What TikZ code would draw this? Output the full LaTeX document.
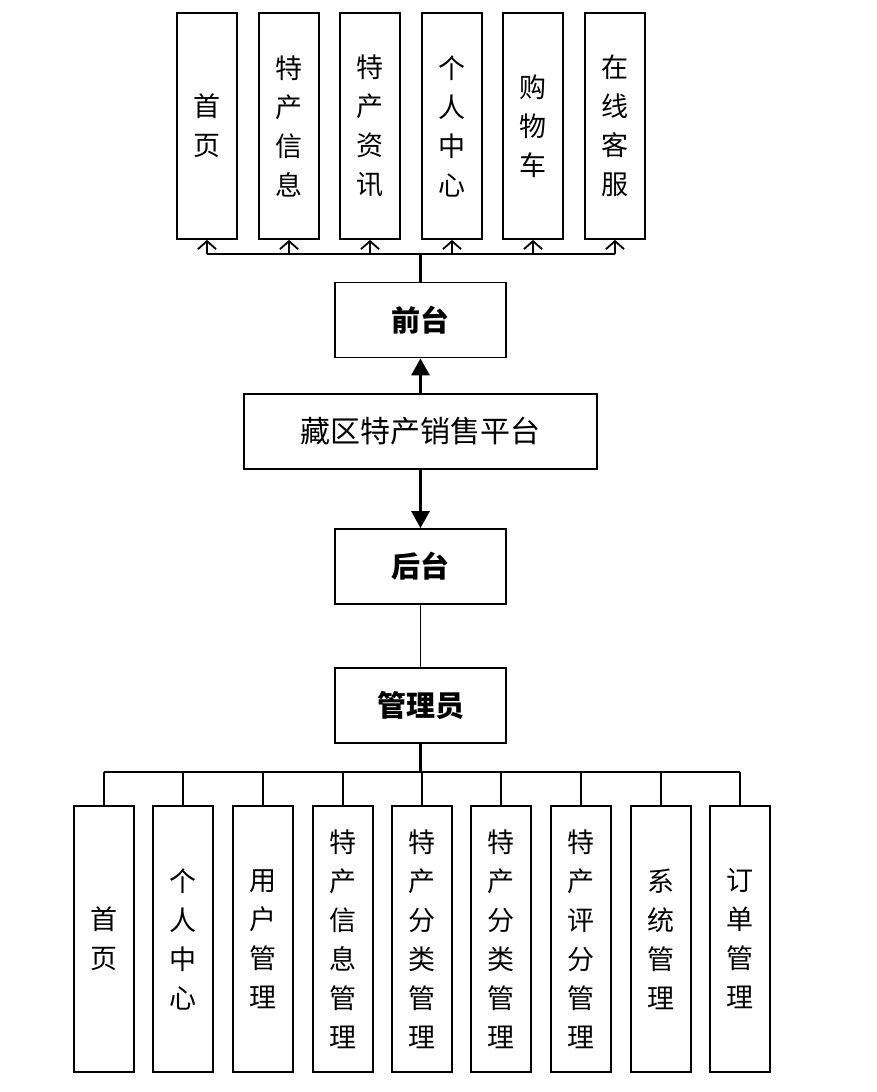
\documentclass[tikz,border=0pt]{standalone}
\usepackage{fontspec}
\setmainfont{Noto Sans CJK SC}
\usetikzlibrary{arrows.meta}

\begin{document}
\begin{tikzpicture}[x=1pt,y=-1pt,
	box/.style={draw,line width=1.8pt,inner sep=0pt,align=center},
	vbox/.style={box,minimum width=60pt,font=\fontsize{27}{39}\selectfont},
	hbox/.style={box,minimum width=171pt,minimum height=75pt,font=\fontsize{29}{34}\selectfont\bfseries}]
	\useasboundingbox (0,0) rectangle (877,1092);
	% centre
	\node[box,minimum width=353pt,minimum height=75pt,font=\fontsize{30}{34}\selectfont] (plat) at (420.5,431.5) {藏区特产销售平台};
	\node[hbox] (front) at (420.5,320) {前台};
	\node[hbox] (back) at (420.5,566.5) {后台};
	\node[hbox] (admin) at (420.5,705.5) {管理员};
	\draw[line width=3pt,-{Triangle[length=17pt,width=18pt]}] (plat.north) -- (front.south);
	\draw[line width=3pt,-{Triangle[length=17pt,width=18pt]}] (plat.south) -- (back.north);
	\draw[line width=1.8pt] (back.south) -- (admin.north);
	% front end
	\node[vbox,minimum height=226pt] (f1) at (207,126) {首\\页};
	\node[vbox,minimum height=226pt] (f2) at (289,126) {特\\产\\信\\息};
	\node[vbox,minimum height=226pt] (f3) at (370,126) {特\\产\\资\\讯};
	\node[vbox,minimum height=226pt] (f4) at (452,126) {个\\人\\中\\心};
	\node[vbox,minimum height=226pt] (f5) at (533,126) {购\\物\\车};
	\node[vbox,minimum height=226pt] (f6) at (615,126) {在\\线\\客\\服};
	\coordinate (fbus) at (420.5,254);
	\draw[line width=3pt] (front.north) -- (fbus);
	\draw[line width=2.4pt] (f1.south |- fbus) -- (f6.south |- fbus);
	\foreach \i in {1,...,6}
		\draw[line width=1.8pt,-{Straight Barb[length=8pt,width=18pt]}] (f\i.south |- fbus) -- (f\i.south);
	% back end
	\node[vbox,minimum height=266pt] (a1) at (104,939) {首\\页};
	\node[vbox,minimum height=266pt] (a2) at (183,939) {个\\人\\中\\心};
	\node[vbox,minimum height=266pt] (a3) at (263,939) {用\\户\\管\\理};
	\node[vbox,minimum height=266pt] (a4) at (343,939) {特\\产\\信\\息\\管\\理};
	\node[vbox,minimum height=266pt] (a5) at (422,939) {特\\产\\分\\类\\管\\理};
	\node[vbox,minimum height=266pt] (a6) at (501,939) {特\\产\\分\\类\\管\\理};
	\node[vbox,minimum height=266pt] (a7) at (581,939) {特\\产\\评\\分\\管\\理};
	\node[vbox,minimum height=266pt] (a8) at (661,939) {系\\统\\管\\理};
	\node[vbox,minimum height=266pt] (a9) at (740,939) {订\\单\\管\\理};
	\coordinate (abus) at (420.5,772);
	\draw[line width=3pt] (admin.south) -- (abus);
	\draw[line width=2.4pt] (a1.north |- abus) -- (a9.north |- abus);
	\foreach \i in {1,...,9}
		\draw[line width=1.8pt] (a\i.north |- abus) -- (a\i.north);
\end{tikzpicture}
\end{document}
